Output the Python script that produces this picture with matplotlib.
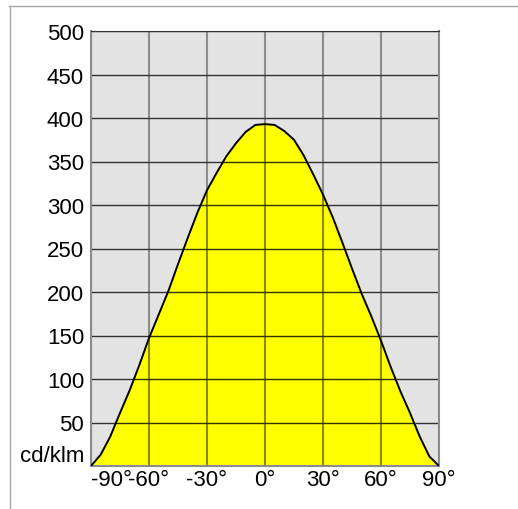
import matplotlib
matplotlib.use('Agg')
import matplotlib.pyplot as plt
from matplotlib.lines import Line2D

plt.rcParams['font.family'] = ['Liberation Sans', 'DejaVu Sans']

# luminous intensity curve, cd/klm over angle
angles = [-90, -85, -80, -75, -70, -65, -60, -55, -50, -45, -40, -35, -30, -25, -20, -15, -10, -5,
          0, 5, 10, 15, 20, 25, 30, 35, 40, 45, 50, 55, 60, 65, 70, 75, 80, 85, 90]
values = [0, 13, 34, 61, 87, 116, 147, 174, 201, 232, 262, 291, 317, 337, 356, 371, 384, 392,
          393, 392, 385, 375, 357, 335, 312, 286, 257, 227, 198, 172, 144, 114, 86, 61, 34, 11, 0]

xticks = [-90, -60, -30, 0, 30, 60, 90]
xlabels = ['-90°', '-60°', '-30°', '0°', '30°', '60°', '90°']
yticks = [50, 100, 150, 200, 250, 300, 350, 400, 450, 500]

fig = plt.figure(figsize=(5.18, 5.10), dpi=100)
fig.patch.set_facecolor('white')
ax = fig.add_axes([91/518, 43/510, 348/518, 435/510])
ax.set_facecolor('#e3e3e3')

ax.set_xlim(-90, 90)
ax.set_ylim(0, 500)

# grid
for xv in xticks:
    ax.axvline(xv, color='#8c8c8c', lw=1.5, zorder=1)
for yv in yticks:
    ax.axhline(yv, color='#333333', lw=1.0, zorder=1)

fill = ax.fill_between(angles, values, color='#ffff00', zorder=2)
clip_path = fill.get_paths()[0]

# grid stays visible inside the yellow area (tinted), clipped to the fill
for xv in xticks[1:-1]:
    ln = ax.axvline(xv, color='#8a8a00', lw=1.5, zorder=3)
    ln.set_clip_path(clip_path, ax.transData)
for yv in yticks:
    ln = ax.axhline(yv, color='#333300', lw=1.0, zorder=3)
    ln.set_clip_path(clip_path, ax.transData)
ax.plot(angles, values, color='black', lw=1.4, zorder=4, solid_joinstyle='round')

ax.set_xticks(xticks)
ax.set_xticklabels(xlabels, fontsize=16)
ax.get_xticklabels()[0].set_ha('left')
ax.set_yticks(yticks)
ax.set_yticklabels([str(v) for v in yticks], fontsize=16)
ax.tick_params(length=0)
ax.tick_params(axis='y', pad=5)
ax.tick_params(axis='x', pad=2)
ax.annotate('cd/klm', xy=(0, 0), xycoords='axes fraction', xytext=(-5, 0),
            textcoords='offset points', ha='right', va='bottom', fontsize=16)

ax.spines['top'].set_color('#333333')
for side in ['left', 'right', 'bottom']:
    ax.spines[side].set_color('#8c8c8c')
    ax.spines[side].set_linewidth(1.5)

# outer frame
fig.add_artist(Line2D([9/518, 1], [1 - 7/510, 1 - 7/510], color='#a8a8a8', lw=1, transform=fig.transFigure))
fig.add_artist(Line2D([9.5/518, 9.5/518], [0, 1 - 7/510], color='#a8a8a8', lw=1, transform=fig.transFigure))

fig.savefig('out.png', dpi=100, facecolor=fig.get_facecolor())
